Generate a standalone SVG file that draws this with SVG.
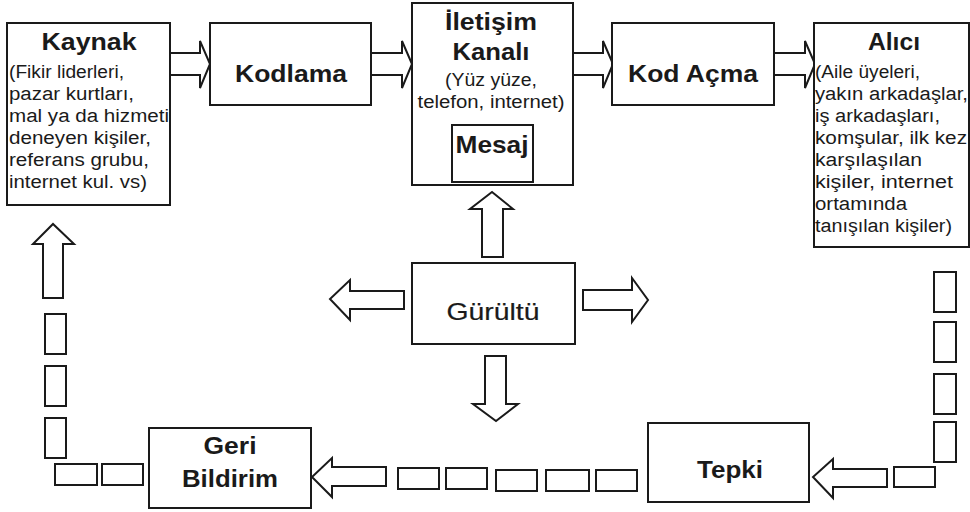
<svg xmlns="http://www.w3.org/2000/svg" width="970" height="512" viewBox="0 0 970 512">
<style>
.box{fill:#fff;stroke:#1a1a1a;stroke-width:2}
.arr{fill:#fff;stroke:#1a1a1a;stroke-width:2;stroke-linejoin:miter}
.dash{fill:#fff;stroke:#1a1a1a;stroke-width:2}
.h{font-family:"Liberation Sans",Arial,sans-serif;font-weight:bold;font-size:24px;fill:#1a1a1a}
.s{font-family:"Liberation Sans",Arial,sans-serif;font-size:18px;fill:#1a1a1a}
.g{font-family:"Liberation Sans",Arial,sans-serif;font-size:24px;fill:#1a1a1a;stroke:#1a1a1a;stroke-width:0.2}
</style>
<rect width="970" height="512" fill="#fff"/>
<g id="connectors">
  <!-- top flow arrows -->
  <polygon class="arr" points="170,53 200,53 200,41 210,64 200,88 200,75 170,75"/>
  <polygon class="arr" points="371,53 402,53 402,41 412,64 402,88 402,75 371,75"/>
  <polygon class="arr" points="573,53 603,53 603,41 613,64 603,88 603,75 573,75"/>
  <polygon class="arr" points="774,53 805,53 805,41 815,64 805,88 805,75 774,75"/>
  <!-- noise arrows -->
  <polygon class="arr" points="482,257 482,209 470,209 492,192 513,209 503,209 503,257"/>
  <polygon class="arr" points="404,291 350,291 350,280 330,299 350,320 350,309 404,309"/>
  <polygon class="arr" points="583,290 632,290 632,278 648,300 632,322 632,310 583,310"/>
  <polygon class="arr" points="485,356 506,356 506,404 518,404 496,421 473,404 485,404"/>
  <!-- feedback loop arrows -->
  <polygon class="arr" points="887,469 833,469 833,459 813,477 833,498 833,487 887,487"/>
  <polygon class="arr" points="386,467 332,467 332,458 312,477 332,497 332,486 386,486"/>
  <polygon class="arr" points="43,298 43,244 33,244 53,224 74,244 63,244 63,298"/>
  <!-- dashed loop segments: right side -->
  <rect class="dash" x="934" y="272" width="22" height="40"/>
  <rect class="dash" x="934" y="322" width="22" height="40"/>
  <rect class="dash" x="934" y="374" width="22" height="40"/>
  <rect class="dash" x="934" y="422" width="22" height="40"/>
  <rect class="dash" x="894" y="467" width="41" height="20"/>
  <!-- bottom -->
  <rect class="dash" x="398" y="468" width="41" height="21"/>
  <rect class="dash" x="446" y="468" width="41" height="21"/>
  <rect class="dash" x="496" y="470" width="41" height="21"/>
  <rect class="dash" x="546" y="470" width="43" height="21"/>
  <rect class="dash" x="596" y="470" width="41" height="21"/>
  <!-- left side -->
  <rect class="dash" x="55" y="464" width="42" height="21"/>
  <rect class="dash" x="102" y="464" width="41" height="21"/>
  <rect class="dash" x="45" y="314" width="21" height="40"/>
  <rect class="dash" x="45" y="366" width="21" height="40"/>
  <rect class="dash" x="45" y="418" width="21" height="40"/>
</g>
<g id="kaynak">
  <rect class="box" x="7" y="23" width="163" height="182"/>
  <text class="h" x="89" y="50" text-anchor="middle" textLength="95" lengthAdjust="spacingAndGlyphs">Kaynak</text>
  <text class="s" x="9" y="78" textLength="115" lengthAdjust="spacingAndGlyphs">(Fikir liderleri,</text>
  <text class="s" x="9" y="100" textLength="125" lengthAdjust="spacingAndGlyphs">pazar kurtları,</text>
  <text class="s" x="9" y="122" textLength="160" lengthAdjust="spacingAndGlyphs">mal ya da hizmeti</text>
  <text class="s" x="9" y="144" textLength="142" lengthAdjust="spacingAndGlyphs">deneyen kişiler,</text>
  <text class="s" x="9" y="166" textLength="140" lengthAdjust="spacingAndGlyphs">referans grubu,</text>
  <text class="s" x="9" y="188" textLength="138" lengthAdjust="spacingAndGlyphs">internet kul. vs)</text>
</g>
<g id="kodlama">
  <rect class="box" x="210" y="23" width="161" height="82"/>
  <text class="h" x="291" y="82" text-anchor="middle" textLength="112" lengthAdjust="spacingAndGlyphs">Kodlama</text>
</g>
<g id="iletisim">
  <rect class="box" x="412" y="3" width="161" height="182"/>
  <text class="h" x="491" y="30" text-anchor="middle" textLength="92" lengthAdjust="spacingAndGlyphs">İletişim</text>
  <text class="h" x="491" y="60" text-anchor="middle" textLength="77" lengthAdjust="spacingAndGlyphs">Kanalı</text>
  <text class="s" x="491" y="86" text-anchor="middle" textLength="92" lengthAdjust="spacingAndGlyphs">(Yüz yüze,</text>
  <text class="s" x="491" y="108" text-anchor="middle" textLength="147" lengthAdjust="spacingAndGlyphs">telefon, internet)</text>
</g>
<g id="mesaj">
  <rect class="box" x="452" y="125" width="81" height="57"/>
  <text class="h" x="492" y="153" text-anchor="middle" textLength="73" lengthAdjust="spacingAndGlyphs">Mesaj</text>
</g>
<g id="kodacma">
  <rect class="box" x="612" y="23" width="162" height="82"/>
  <text class="h" x="693" y="82" text-anchor="middle" textLength="130" lengthAdjust="spacingAndGlyphs">Kod Açma</text>
</g>
<g id="alici">
  <rect class="box" x="814" y="23" width="155" height="224"/>
  <text class="h" x="894" y="50" text-anchor="middle" textLength="52" lengthAdjust="spacingAndGlyphs">Alıcı</text>
  <text class="s" x="815" y="78" textLength="105" lengthAdjust="spacingAndGlyphs">(Aile üyeleri,</text>
  <text class="s" x="815" y="100" textLength="153" lengthAdjust="spacingAndGlyphs">yakın arkadaşlar,</text>
  <text class="s" x="815" y="122" textLength="125" lengthAdjust="spacingAndGlyphs">iş arkadaşları,</text>
  <text class="s" x="815" y="144" textLength="152" lengthAdjust="spacingAndGlyphs">komşular, ilk kez</text>
  <text class="s" x="815" y="166" textLength="107" lengthAdjust="spacingAndGlyphs">karşılaşılan</text>
  <text class="s" x="815" y="188" textLength="138" lengthAdjust="spacingAndGlyphs">kişiler, internet</text>
  <text class="s" x="815" y="210" textLength="92" lengthAdjust="spacingAndGlyphs">ortamında</text>
  <text class="s" x="815" y="232" textLength="137" lengthAdjust="spacingAndGlyphs">tanışılan kişiler)</text>
</g>
<g id="gurultu">
  <rect class="box" x="412" y="263" width="163" height="81"/>
  <text class="g" x="493" y="320" text-anchor="middle" textLength="93" lengthAdjust="spacingAndGlyphs">Gürültü</text>
</g>
<g id="tepki">
  <rect class="box" x="648" y="423" width="161" height="79"/>
  <text class="h" x="730" y="478" text-anchor="middle" textLength="66" lengthAdjust="spacingAndGlyphs">Tepki</text>
</g>
<g id="geribildirim">
  <rect class="box" x="149" y="428" width="162" height="80"/>
  <text class="h" x="230" y="454" text-anchor="middle" textLength="53" lengthAdjust="spacingAndGlyphs">Geri</text>
  <text class="h" x="230" y="487" text-anchor="middle" textLength="96" lengthAdjust="spacingAndGlyphs">Bildirim</text>
</g>
</svg>
